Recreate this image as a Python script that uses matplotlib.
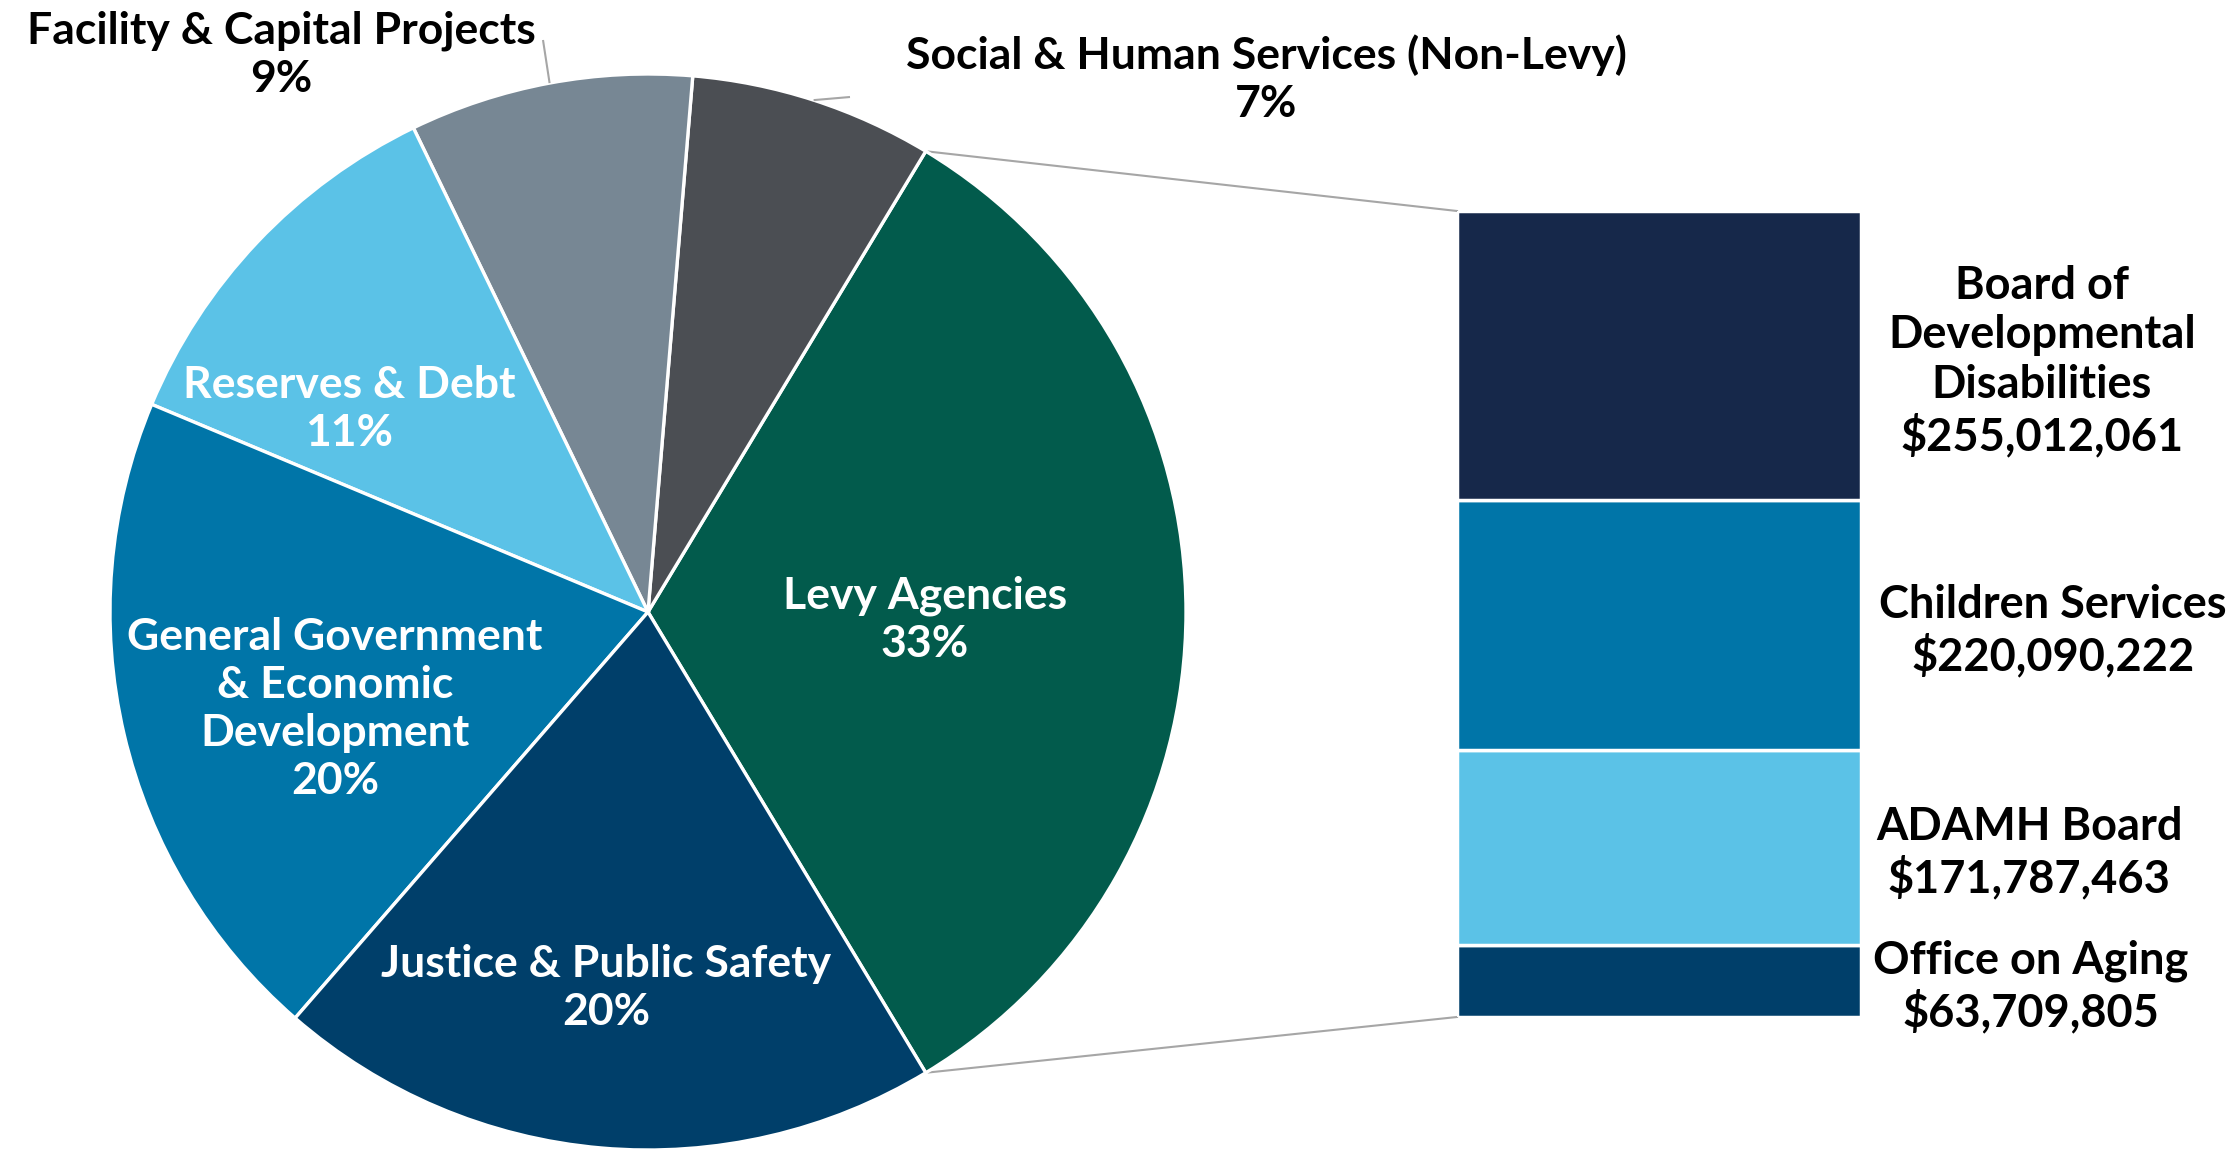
import matplotlib
matplotlib.use("Agg")
import matplotlib.pyplot as plt
import matplotlib.transforms as mtransforms
import numpy as np

# ---------------- data ----------------
pie_categories = ["Levy Agencies", "Social & Human Services (Non-Levy)",
                  "Facility & Capital Projects", "Reserves & Debt",
                  "General Government\n& Economic\nDevelopment",
                  "Justice & Public Safety"]
pie_shares = [32.7, 7.3, 8.5, 11.5, 19.9, 20.0]
pie_pct_labels = ["33%", "7%", "9%", "11%", "20%", "20%"]

levy_agencies = ["Office on Aging", "ADAMH Board", "Children Services",
                 "Board of\nDevelopmental\nDisabilities"]
levy_amounts = [63709805, 171787463, 220090222, 255012061]

# ---------------- style ----------------
pie_colors = ["#025B4C", "#4B4E53", "#778794", "#5BC2E7", "#0075A8", "#003F6A"]
bar_colors = ["#003F6A", "#5BC2E7", "#0075A8", "#16284A"]
FONT = "Lato"

W, H = 2236, 1150
fig = plt.figure(figsize=(W / 100, H / 100), dpi=100)
ax = fig.add_axes([0, 0, 1, 1])

cx, cy, R = 648, 538, 538
start = -pie_shares[0] / sum(pie_shares) * 180
wedges, _ = ax.pie(pie_shares, colors=pie_colors, startangle=start,
                   counterclock=True, center=(cx, cy), radius=R, frame=True,
                   wedgeprops=dict(edgecolor="white", linewidth=2.4))
ax.set_xlim(0, W)
ax.set_ylim(0, H)
ax.set_aspect("equal")
ax.axis("off")

# label positions (pixels, y measured from top) and colours
label_pos = [(925, 620), (1266, 79), (281, 55), (349, 409), (335, 709), (606, 988)]
label_col = ["white", "black", "black", "white", "white", "white"]
for name, pct, (px, py), col in zip(pie_categories, pie_pct_labels, label_pos, label_col):
    ax.text(px, H - py, f"{name}\n{pct}", ha="center", va="center", color=col,
            fontsize=32, fontweight="bold", family=FONT, linespacing=1.24)

# leader lines for outside labels
def edge_point(w, frac=1.0):
    a = np.deg2rad((w.theta1 + w.theta2) / 2)
    return cx + R * frac * np.cos(a), cy + R * frac * np.sin(a)

ex, ey = edge_point(wedges[2])
ax.plot([ex, 543], [ey, H - 40], color="#A6A6A6", lw=1.5, solid_capstyle="butt")
ex, ey = edge_point(wedges[1])
ax.plot([ex, 850], [ey, H - 97], color="#A6A6A6", lw=1.5, solid_capstyle="butt")

# ---------------- stacked bar ----------------
bx0, bx1, btop, bbot = 1457, 1861, 211, 1017
ax2 = fig.add_axes([bx0 / W, (H - bbot) / H, (bx1 - bx0) / W, (bbot - btop) / H])
bottom = 0
centers = []
for amt, col in zip(levy_amounts, bar_colors):
    ax2.bar(0, amt, bottom=bottom, width=1.0, color=col, edgecolor="white", linewidth=2.5)
    centers.append(bottom + amt / 2)
    bottom += amt
ax2.set_xlim(-0.5, 0.5)
ax2.set_ylim(0, sum(levy_amounts))
ax2.axis("off")

trans = mtransforms.blended_transform_factory(ax.transData, ax2.transData)
shift = mtransforms.ScaledTranslation(0, -6 / 100, fig.dpi_scale_trans)
bar_label_x = [2031, 2029, 2053, 2042]
for name, amt, yc, lx in zip(levy_agencies, levy_amounts, centers, bar_label_x):
    ax.text(lx, yc, f"{name}\n${amt:,}", transform=trans + shift, ha="center", va="center",
            fontsize=32.5, fontweight="bold", family=FONT, color="black", linespacing=1.22)

# connector lines from Levy slice to bar
lw = wedges[0]
for th, by in [(lw.theta2, H - btop), (lw.theta1, H - bbot)]:
    a = np.deg2rad(th)
    ax.plot([cx + R * np.cos(a), bx0], [cy + R * np.sin(a), by],
            color="#A6A6A6", lw=1.5, zorder=0)

fig.savefig("out.png", dpi=100, facecolor="white")
